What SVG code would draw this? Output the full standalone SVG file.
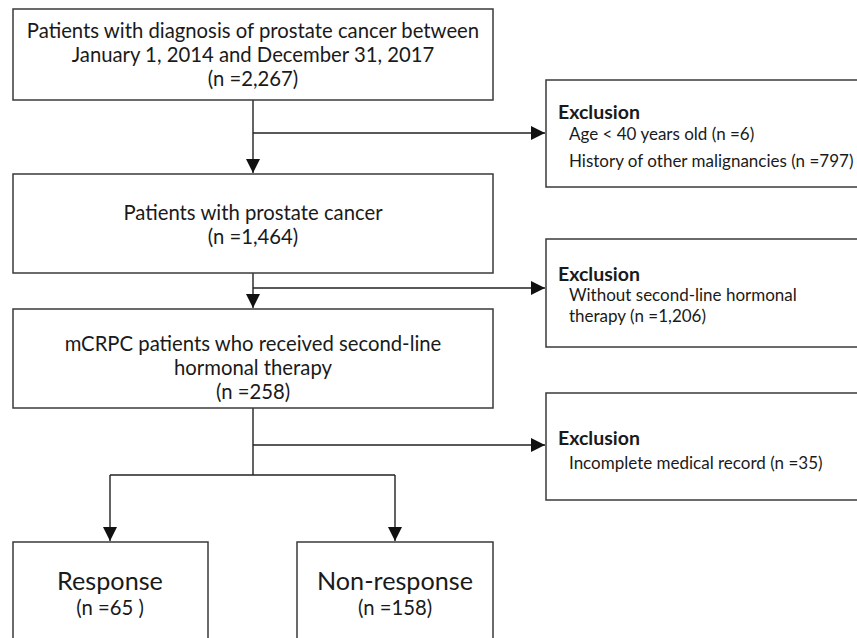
<svg xmlns="http://www.w3.org/2000/svg" width="857" height="638" viewBox="0 0 857 638">
<defs>
<style>
.box{fill:#fff;stroke:#3a3a3a;stroke-width:1.5}
.t{font-family:Lato,"Liberation Sans",sans-serif;font-size:20.3px;fill:#1a1a1a;text-anchor:middle;dominant-baseline:central}
.big{font-size:25.2px}
.ex{font-family:Lato,"Liberation Sans",sans-serif;font-size:17px;fill:#1a1a1a;dominant-baseline:central}
.exh{font-size:19.5px;font-weight:bold}
.c{fill:none;stroke:#222;stroke-width:1.4}
</style>
<marker id="ah" markerUnits="userSpaceOnUse" markerWidth="14" markerHeight="14" refX="14" refY="7" orient="auto">
<path d="M0,0 L14,7 L0,14 Z" fill="#111"/>
</marker>
</defs>
<rect width="857" height="638" fill="#fff"/>
<g id="connectors">
<path class="c" d="M253,100 V173" marker-end="url(#ah)"/>
<path class="c" d="M253,133 H545" marker-end="url(#ah)"/>
<path class="c" d="M253,273 V308" marker-end="url(#ah)"/>
<path class="c" d="M253,288 H545" marker-end="url(#ah)"/>
<path class="c" d="M253,408 V475"/>
<path class="c" d="M253,445 H545" marker-end="url(#ah)"/>
<path class="c" d="M110,475 H395"/>
<path class="c" d="M110,475 V541" marker-end="url(#ah)"/>
<path class="c" d="M395,475 V541" marker-end="url(#ah)"/>
</g>
<g id="n1">
<rect class="box" x="13" y="9" width="480" height="91"/>
<text class="t" x="253" y="30">Patients with diagnosis of prostate cancer between</text>
<text class="t" x="253" y="54">January 1, 2014 and December 31, 2017</text>
<text class="t" x="253" y="78">(n =2,267)</text>
</g>
<g id="n2">
<rect class="box" x="13" y="174" width="480" height="99"/>
<text class="t" x="253" y="212">Patients with prostate cancer</text>
<text class="t" x="253" y="236">(n =1,464)</text>
</g>
<g id="n3">
<rect class="box" x="13" y="309" width="480" height="99"/>
<text class="t" x="253" y="343">mCRPC patients who received second-line</text>
<text class="t" x="253" y="367">hormonal therapy</text>
<text class="t" x="253" y="391">(n =258)</text>
</g>
<g id="n4">
<rect class="box" x="13" y="542" width="195" height="120"/>
<text class="t big" x="110" y="580">Response</text>
<text class="t" x="110" y="607">(n =65 )</text>
</g>
<g id="n5">
<rect class="box" x="297" y="542" width="196" height="120"/>
<text class="t big" x="395" y="580">Non-response</text>
<text class="t" x="395" y="607">(n =158)</text>
</g>
<g id="e1">
<rect class="box" x="546" y="80" width="330" height="107"/>
<text class="ex exh" x="558" y="111">Exclusion</text>
<text class="ex" x="569" y="133">Age &lt; 40 years old (n =6)</text>
<text class="ex" x="569" y="160">History of other malignancies (n =797)</text>
</g>
<g id="e2">
<rect class="box" x="546" y="239" width="330" height="108"/>
<text class="ex exh" x="558" y="273">Exclusion</text>
<text class="ex" x="569" y="294">Without second-line hormonal</text>
<text class="ex" x="569" y="315">therapy (n =1,206)</text>
</g>
<g id="e3">
<rect class="box" x="546" y="393" width="330" height="107"/>
<text class="ex exh" x="558" y="437">Exclusion</text>
<text class="ex" x="569" y="462">Incomplete medical record (n =35)</text>
</g>
</svg>
